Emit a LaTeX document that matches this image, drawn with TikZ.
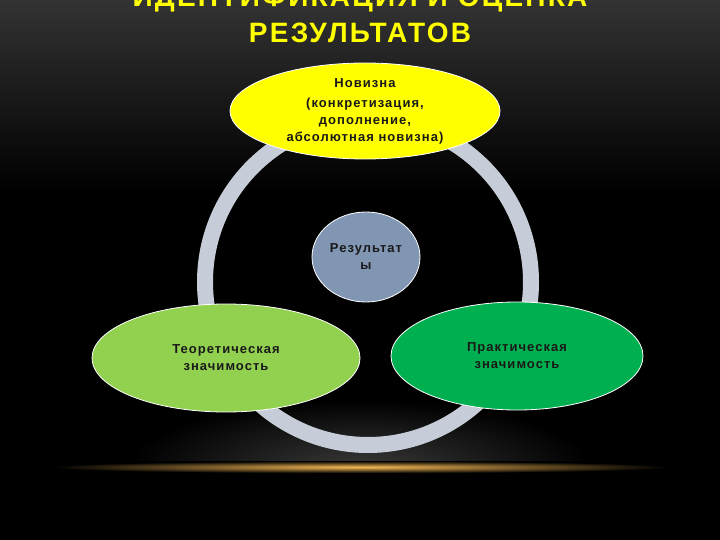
\documentclass[tikz,border=0pt]{standalone}
\usepackage{fontspec}
\setmainfont{Liberation Sans}
\usetikzlibrary{shapes.geometric}

\definecolor{ringgray}{RGB}{198,205,216}
\definecolor{novyellow}{RGB}{255,255,0}
\definecolor{resblue}{RGB}{128,150,178}
\definecolor{theorygreen}{RGB}{146,208,80}
\definecolor{practgreen}{RGB}{0,176,80}
\definecolor{titleyellow}{RGB}{255,255,0}
\definecolor{glow}{RGB}{245,185,85}

\tikzset{every node/.style={font=\bfseries\fontsize{13}{17}\selectfont\addfontfeature{LetterSpace=8},align=center,text=black!90},
  oval/.style={ellipse,draw=white,line width=0.8pt,inner sep=0pt}}

\begin{document}
\begin{tikzpicture}[x=1pt,y=-1pt]
\useasboundingbox (0,0) rectangle (720,540);
% background
\fill[black] (0,0) rectangle (720,540);
\shade[top color=black!80,bottom color=black] (0,0) rectangle (720,190);
\begin{scope}
\clip (0,0) rectangle (720,466);
\shade[shading=radial,inner color=black!78,outer color=black] (130,400) rectangle (590,534);
\end{scope}
\shade[shading=radial,inner color=glow,outer color=black] (50,461) rectangle (670,473);
% ring
\draw[ringgray,line width=16pt] (368,282) circle (163);
\filldraw 
(365,111) node[oval,fill=novyellow,minimum width=270pt,minimum height=96pt](nov){Новизна\\[3pt](конкретизация,\\дополнение,\\абсолютная новизна)}
(366,257) node[oval,fill=resblue,minimum width=108pt,minimum height=90pt](res){Результат\\ы}
(226,358) node[oval,fill=theorygreen,minimum width=268pt,minimum height=108pt](theo){Теоретическая\\значимость}
(517,356) node[oval,fill=practgreen,minimum width=252pt,minimum height=108pt](pract){Практическая\\значимость};
% title
\node[text=titleyellow,font=\bfseries\fontsize{28}{36}\selectfont\addfontfeature{LetterSpace=8}] (title) at (360,15) {ИДЕНТИФИКАЦИЯ И ОЦЕНКА\\РЕЗУЛЬТАТОВ};
\end{tikzpicture}
\end{document}
